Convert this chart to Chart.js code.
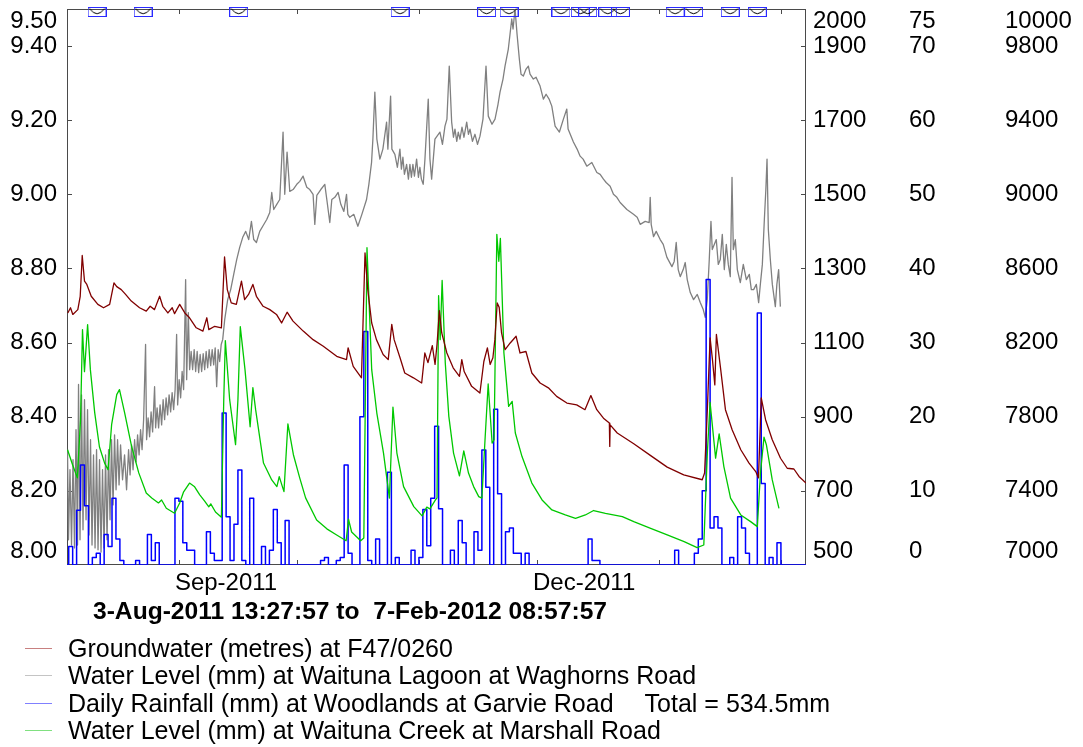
<!DOCTYPE html>
<html>
<head>
<meta charset="utf-8">
<title>Waituna catchment levels and rainfall</title>
<script src="https://cdn.jsdelivr.net/npm/chart.js@4.4.1/dist/chart.umd.min.js"></script>
<style>
  body { margin: 0; background: #fff; }
  #wrap { position: relative; width: 1083px; height: 747px; font-family: 'Liberation Sans', Arial, sans-serif; color: #000; }
  #period { position: absolute; left: 93px; top: 596px; font-size: 24.6px; font-weight: bold; line-height: 30px; white-space: pre; }
  #legend { position: absolute; left: 25px; top: 635px; font-size: 25px; }
  .row { height: 27.3px; display: flex; align-items: center; white-space: pre; }
  .swatch { width: 27px; height: 0; border-top: 1px solid; margin-right: 16px; }
</style>
</head>
<body>
<div id="wrap">
  <canvas id="chart" width="1083" height="747"></canvas>
  <div id="period"></div>
  <div id="legend"></div>
</div>
<script>
// x values are days counted from 1-Aug-2011 00:00
var startDay = 2.561;    // 3-Aug-2011 13:27:57
var endDay = 190.374;    // 7-Feb-2012 08:57:57
var periodText = '3-Aug-2011 13:27:57 to  7-Feb-2012 08:57:57';
var monthStarts = [31, 61, 92, 122, 153, 184];
var monthLabels = { 31: 'Sep-2011', 122: 'Dec-2011' };

var gwTicks = [8.0, 8.2, 8.4, 8.6, 8.8, 9.0, 9.2, 9.4, 9.5];
var lagoonTicks = [500, 700, 900, 1100, 1300, 1500, 1700, 1900, 2000];
var rainTicks = [0, 10, 20, 30, 40, 50, 60, 70, 75];
var creekTicks = [7000, 7400, 7800, 8200, 8600, 9000, 9400, 9800, 10000];

// groundwater (m) at F47/0260
var groundwater = [
  [2.76, 8.680], [3.45, 8.694], [4.04, 8.676], [5.31, 8.689], [5.92, 8.725], [6.43, 8.835], [7.01, 8.766], [7.6, 8.757],
  [8.72, 8.725], [10.4, 8.703], [11.85, 8.694], [13.4, 8.703], [14.5, 8.761], [15.2, 8.751], [16.35, 8.743], [17.45, 8.730],
  [18.9, 8.712], [21.0, 8.694], [22.7, 8.685], [23.7, 8.698], [24.8, 8.689], [26.1, 8.725], [26.9, 8.698], [28.2, 8.680],
  [29.3, 8.694], [29.9, 8.678], [31.2, 8.703], [32.5, 8.680], [33.7, 8.667], [35.4, 8.640], [37.1, 8.631], [38.1, 8.667],
  [38.6, 8.635], [40.1, 8.644], [41.8, 8.640], [42.6, 8.831], [43.3, 8.743], [44.3, 8.707], [45.6, 8.703], [46.9, 8.766],
  [47.7, 8.716], [48.7, 8.730], [49.8, 8.757], [50.7, 8.725], [52.4, 8.698], [54.1, 8.689], [55.8, 8.676], [57.1, 8.653],
  [58.5, 8.682], [60.0, 8.658], [62.6, 8.631], [65.1, 8.608], [67.7, 8.590], [71.1, 8.563], [73.6, 8.554], [74.0, 8.586],
  [75.3, 8.536], [77.4, 8.505], [78.3, 8.842], [79.0, 8.743], [80.0, 8.653], [81.2, 8.608], [82.9, 8.568], [84.2, 8.554],
  [85.1, 8.649], [85.7, 8.608], [87.2, 8.559], [88.4, 8.518], [90.6, 8.505], [92.7, 8.491], [93.5, 8.572], [94.3, 8.546],
  [95.4, 8.592], [96.1, 8.541], [96.6, 8.595], [97.2, 8.686], [97.8, 8.626], [99.1, 8.572], [100.7, 8.532], [102.3, 8.509],
  [102.9, 8.554], [103.5, 8.522], [105.4, 8.482], [107.5, 8.464], [108.5, 8.549], [109.4, 8.586], [110.1, 8.541], [110.8, 8.559],
  [111.3, 8.608], [111.9, 8.707], [112.4, 8.695], [113.0, 8.626], [113.9, 8.581], [115.2, 8.599], [116.7, 8.617], [117.7, 8.572],
  [119.2, 8.576], [120.7, 8.518], [122.8, 8.491], [124.9, 8.478], [127.0, 8.455], [129.6, 8.437], [132.1, 8.432], [134.2, 8.419],
  [135.7, 8.457], [137.2, 8.419], [138.9, 8.396], [140.4, 8.383], [140.5, 8.320], [140.6, 8.378], [142.4, 8.356], [146.6, 8.327],
  [150.9, 8.295], [155.1, 8.264], [159.3, 8.243], [164.0, 8.230], [164.6, 8.248], [165.3, 8.419], [166.0, 8.613], [166.6, 8.554],
  [167.2, 8.486], [167.6, 8.622], [168.7, 8.527], [169.9, 8.419], [171.6, 8.365], [173.8, 8.311], [175.9, 8.275], [177.6, 8.252],
  [178.3, 8.235], [179.0, 8.451], [180.1, 8.392], [181.8, 8.338], [183.9, 8.288], [185.6, 8.261], [187.3, 8.259], [188.6, 8.239],
  [190.37, 8.221]
];

// water level (mm) at Waituna Lagoon at Waghorns Road
var lagoon = [
  [2.69, 811], [2.94, 568], [3.32, 757], [3.71, 554], [4.09, 784], [4.47, 546], [4.85, 865], [5.23, 554], [5.49, 987], [5.87, 568],
  [6.25, 959], [6.63, 595], [7.01, 946], [7.40, 622], [7.78, 919], [8.16, 581], [8.54, 838], [8.92, 554], [9.30, 797], [9.69, 546],
  [10.07, 811], [10.45, 541], [10.83, 784], [11.21, 535], [11.59, 757], [11.98, 546], [12.36, 797], [12.74, 568], [13.12, 811],
  [13.50, 622], [13.88, 838], [14.27, 662], [14.65, 851], [15.03, 703], [15.41, 838], [15.79, 716], [16.17, 824], [16.68, 730],
  [17.19, 797], [17.70, 703], [18.21, 811], [18.59, 743], [18.97, 824], [19.35, 757], [19.74, 838], [20.12, 778], [20.50, 851],
  [20.88, 797], [21.26, 865], [21.64, 811], [22.03, 892], [22.53, 1095], [22.79, 838], [23.17, 897], [23.55, 846], [23.93, 913],
  [24.32, 859], [24.82, 981], [25.08, 870], [25.46, 924], [25.84, 870], [26.22, 932], [26.61, 878], [26.99, 946], [27.37, 892],
  [27.75, 951], [28.13, 905], [28.51, 959], [28.90, 913], [29.28, 965], [29.66, 919], [30.04, 973], [30.42, 1122], [30.68, 932],
  [31.06, 1000], [31.44, 951], [31.82, 1022], [32.20, 973], [32.71, 1270], [32.97, 1000], [33.40, 1181], [33.73, 1027],
  [34.11, 1076], [34.49, 1027], [34.88, 1081], [35.26, 1022], [35.64, 1076], [36.02, 1019], [36.40, 1068], [36.78, 1022],
  [37.17, 1070], [37.55, 1027], [37.93, 1076], [38.31, 1032], [38.69, 1081], [39.07, 1038], [39.46, 1081], [39.84, 1040],
  [40.22, 1086], [40.60, 981], [40.98, 1081], [41.36, 1049], [41.75, 1095], [42.13, 1108], [42.64, 1162], [43.40, 1216],
  [44.16, 1243], [44.93, 1284], [45.69, 1324], [46.45, 1357], [47.22, 1384], [47.98, 1400], [48.74, 1378], [49.43, 1427],
  [50.02, 1378], [50.70, 1370], [51.54, 1400], [52.31, 1414], [53.32, 1432], [54.09, 1451], [54.60, 1505], [55.10, 1459],
  [55.87, 1473], [56.63, 1486], [57.47, 1668], [57.90, 1500], [58.49, 1614], [59.18, 1508], [60.02, 1513], [60.96, 1527],
  [61.72, 1535], [62.56, 1549], [63.50, 1519], [64.26, 1513], [65.10, 1500], [65.54, 1419], [66.05, 1497], [67.06, 1513],
  [68.08, 1527], [68.59, 1486], [69.35, 1424], [69.86, 1486], [70.63, 1492], [71.47, 1505], [72.15, 1473], [72.92, 1454],
  [73.60, 1500], [73.93, 1446], [74.44, 1438], [75.46, 1446], [76.48, 1414], [77.50, 1446], [78.69, 1486], [79.28, 1527],
  [79.96, 1586], [80.30, 1649], [80.80, 1776], [81.31, 1649], [82.08, 1595], [82.84, 1622], [83.78, 1695], [84.11, 1622],
  [84.80, 1765], [85.13, 1622], [85.89, 1608], [86.53, 1573], [87.17, 1622], [87.55, 1568], [87.93, 1600], [88.31, 1554],
  [88.87, 1581], [89.33, 1541], [89.71, 1581], [90.09, 1546], [90.47, 1581], [90.86, 1549], [91.41, 1595], [91.87, 1546],
  [92.25, 1573], [92.63, 1541], [93.09, 1527], [93.53, 1595], [94.37, 1757], [94.80, 1595], [95.23, 1541], [96.07, 1649],
  [97.34, 1668], [97.98, 1635], [98.62, 1684], [99.12, 1703], [99.71, 1846], [100.32, 1695], [100.78, 1654], [101.16, 1676],
  [101.62, 1643], [102.00, 1668], [102.43, 1649], [102.94, 1681], [103.45, 1654], [104.14, 1695], [104.59, 1662], [104.98, 1676],
  [105.61, 1643], [106.25, 1662], [106.89, 1635], [107.52, 1657], [108.28, 1703], [109.05, 1846], [109.63, 1711], [110.57, 1689],
  [111.34, 1703], [112.10, 1743], [112.61, 1776], [113.37, 1811], [113.88, 1846], [114.72, 1892], [115.15, 1932], [115.59, 1973],
  [115.92, 1946], [116.43, 2000], [116.94, 1932], [117.52, 1865], [117.95, 1824], [118.54, 1819], [119.23, 1838], [119.81, 1846],
  [120.24, 1824], [121.08, 1811], [121.77, 1816], [122.79, 1792], [123.63, 1757], [124.32, 1770], [125.08, 1757], [125.77, 1738],
  [126.61, 1684], [127.70, 1668], [128.72, 1703], [129.58, 1730], [129.91, 1676], [131.26, 1641], [132.20, 1622], [132.97, 1603],
  [133.73, 1595], [134.67, 1576], [135.94, 1586], [137.22, 1559], [138.06, 1554], [138.90, 1541], [139.58, 1532], [140.60, 1522],
  [141.44, 1500], [142.30, 1492], [143.14, 1478], [144.85, 1459], [146.53, 1446], [147.47, 1438], [148.23, 1419], [149.51, 1427],
  [150.52, 1424], [150.78, 1492], [151.03, 1419], [151.62, 1386], [152.30, 1400], [153.32, 1378], [154.09, 1365], [155.03, 1330],
  [156.30, 1305], [156.88, 1319], [157.39, 1370], [157.90, 1297], [158.41, 1278], [159.17, 1297], [159.68, 1316], [160.19, 1270],
  [160.96, 1235], [161.80, 1216], [162.74, 1230], [163.50, 1208], [164.26, 1189], [164.77, 1168], [165.28, 1216], [165.79, 1324],
  [166.22, 1427], [166.55, 1351], [167.57, 1378], [168.08, 1311], [168.59, 1324], [169.10, 1392], [169.61, 1297], [170.12, 1365],
  [170.63, 1311], [171.13, 1278], [171.57, 1546], [171.90, 1351], [172.41, 1378], [172.92, 1297], [173.68, 1262], [174.44, 1311],
  [175.21, 1270], [175.97, 1284], [176.48, 1243], [177.06, 1243], [177.75, 1257], [178.34, 1208], [178.77, 1257], [179.28, 1311],
  [179.79, 1432], [180.17, 1513], [180.47, 1595], [180.80, 1405], [181.31, 1324], [181.82, 1257], [182.58, 1197], [182.97, 1257],
  [183.42, 1297], [183.86, 1197]
];

// daily rainfall (mm) at Woodlands at Garvie Road, [day, mm], dry days left out
var rain = [
  [3, 2.5], [5, 7.4], [6, 13.5], [7, 8.0], [9, 1.0], [10, 1.6], [12, 4.1], [13, 2.5], [14, 9.0], [15, 3.5], [16, 0.6],
  [20, 0.6], [23, 4.1], [24, 0.6], [25, 3.0], [30, 9.0], [31, 8.6], [32, 3.0], [33, 2.0], [34, 2.0],
  [38, 4.5], [39, 1.6], [40, 0.6], [41, 0.6], [42, 20.5], [43, 6.5], [44, 0.6], [45, 5.5], [46, 12.8], [47, 0.6], [49, 9.0],
  [52, 2.5], [54, 2.0], [55, 7.5], [56, 3.0], [58, 6.0],
  [67, 0.6], [68, 1.0], [71, 0.6], [72, 1.0], [73, 13.5], [74, 1.6], [77, 20.0], [78, 31.5], [79, 0.6], [81, 3.5], [84, 12.5], [86, 1.0],
  [90, 2.0], [92, 1.0], [93, 7.5], [94, 2.6], [95, 9.0], [96, 18.7], [97, 7.6],
  [100, 2.0], [102, 6.0], [103, 3.0], [106, 4.5], [107, 2.0], [108, 15.5], [109, 10.5], [111, 21.0], [112, 9.6],
  [114, 4.5], [115, 5.0], [116, 1.6], [117, 1.6], [119, 1.6],
  [135, 3.5], [136, 0.6], [137, 0.6],
  [157, 2.0], [162, 1.6], [163, 3.5], [164, 10.0], [165, 38.5], [166, 5.0], [167, 6.5], [168, 5.0],
  [171, 1.0], [173, 6.5], [174, 5.0], [175, 1.6], [178, 34.0], [179, 11.0], [181, 1.0], [183, 3.0]
];

// water level (mm) at Waituna Creek at Marshall Road
var creek = [
  [2.7, 7622], [4.0, 7540], [5.2, 7470], [6.0, 7784], [6.5, 8270], [7.0, 8043], [7.8, 8297], [8.5, 8054], [9.6, 7822],
  [10.8, 7638], [12.1, 7551], [13.0, 7514], [13.9, 7757], [15.2, 7919], [15.9, 7946], [17.2, 7822], [19.0, 7638], [20.8, 7497],
  [22.7, 7389], [24.1, 7362], [25.8, 7335], [26.6, 7351], [27.8, 7306], [29.9, 7279], [31.2, 7335], [32.2, 7395], [33.7, 7442],
  [35.0, 7422], [36.3, 7378], [37.5, 7346], [38.6, 7314], [39.1, 7330], [40.3, 7286], [41.8, 7258], [42.4, 7892], [42.8, 8211],
  [43.9, 7892], [45.4, 7649], [46.0, 7892], [46.6, 8286], [47.8, 8054], [49.1, 7746], [49.8, 7957], [50.5, 7838], [52.5, 7550],
  [54.6, 7459], [55.9, 7423], [56.5, 7477], [57.7, 7396], [58.7, 7762], [60.1, 7595], [61.7, 7470], [63.2, 7362], [66.0, 7243],
  [68.6, 7195], [71.1, 7162], [73.5, 7131], [74.1, 7247], [74.9, 7178], [77.2, 7131], [78.0, 7146], [78.8, 8712], [80.0, 8054],
  [81.3, 7820], [83.0, 7604], [84.5, 7361], [85.4, 7852], [86.4, 7604], [88.1, 7423], [90.7, 7315], [92.8, 7265], [94.0, 7312],
  [94.8, 7303], [96.2, 7351], [96.6, 7362], [97.0, 8454], [97.4, 8216], [97.9, 8535], [98.7, 8090], [99.6, 7802], [100.8, 7604],
  [102.3, 7481], [103.4, 7616], [104.6, 7496], [105.9, 7423], [107.2, 7369], [108.0, 7361], [108.8, 7676], [109.6, 7977],
  [110.6, 7658], [111.1, 7676], [111.8, 8784], [112.3, 8639], [112.7, 8762], [113.6, 8144], [114.8, 7856], [115.7, 7883],
  [116.5, 7712], [118.2, 7585], [120.7, 7442], [123.3, 7351], [125.8, 7297], [129.2, 7270], [131.8, 7252], [134.3, 7270],
  [136.4, 7294], [139.4, 7279], [143.7, 7261], [146.6, 7234], [150.9, 7198], [155.1, 7162], [159.4, 7126], [162.7, 7094],
  [164.4, 7108], [165.3, 7604], [166.0, 7877], [167.4, 7577], [168.3, 7708], [169.5, 7531], [171.2, 7361], [173.8, 7270],
  [176.3, 7234], [178.0, 7207], [178.8, 7496], [179.7, 7690], [180.3, 7649], [181.8, 7459], [183.5, 7306]
];

// days flagged along the top edge of the plot
var gapDays = [10.2, 21.9, 46.2, 87.2, 109.2, 114.9, 128.1, 133.0, 134.9, 140.0, 143.2, 157.1, 161.8, 171.1, 178.0];

var labels = {
    gw: 'Groundwater (metres) at F47/0260',
    lagoon: 'Water Level (mm) at Waituna Lagoon at Waghorns Road',
    rain: 'Daily Rainfall (mm) at Woodlands at Garvie Road',
    creek: 'Water Level (mm) at Waituna Creek at Marshall Road'
};
var colors = { gw: '#800000', lagoon: '#808080', rain: '#0000ff', creek: '#00c800' };
var swatchColors = { gw: '#c88080', lagoon: '#c4c4c4', rain: '#8080ff', creek: '#80e080' };

function toPoints(pairs) {
    return pairs.map(function (p) { return { x: p[0], y: p[1] }; });
}

// one step per day, dry days at zero
var rainSteps = [];
for (var d = 2; d <= 190; d++) {
    var hit = rain.find(function (r) { return r[0] === d; });
    rainSteps.push({ x: d, y: hit ? hit[1] : 0 });
}
rainSteps.push({ x: endDay, y: rainSteps[rainSteps.length - 1].y });
var rainTotal = Math.round(rain.reduce(function (s, r) { return s + r[1]; }, 0) * 10) / 10;

// little flag box drawn for each gap day
function gapGlyph() {
    var c = document.createElement('canvas');
    c.width = 19; c.height = 20;
    var g = c.getContext('2d');
    g.strokeStyle = '#2a2aff';
    g.lineWidth = 1;
    g.strokeRect(0.5, 8.5, 18, 9);
    g.strokeStyle = '#000';
    g.beginPath();
    g.moveTo(2, 9.5);
    g.quadraticCurveTo(9.5, 20, 17, 9.5);
    g.stroke();
    return c;
}

// top label drops below the tick, bottom label sits above it
function edgeLabel(text, value, ticks) {
    if (value === ticks[ticks.length - 1]) return ['', text];
    if (value === ticks[0]) return [text, ''];
    return text;
}
function edgeFont(ticks) {
    return function (c) {
        var v = c.tick ? c.tick.value : null;
        return { size: 24, lineHeight: v === ticks[ticks.length - 1] ? '25px' : '28px' };
    };
}
function fixedWidth(w) {
    return function (s) {
        s.width = w;
        s.paddingTop = 0; s.paddingBottom = 0; s.paddingLeft = 0; s.paddingRight = 0;
    };
}
function setTicks(list) {
    return function (s) { s.ticks = list.map(function (v) { return { value: v }; }); };
}

// frame and inward tick marks
var frameTicks = {
    id: 'frameTicks',
    beforeDatasetsDraw: function (chart) {
        var c = chart.ctx, a = chart.chartArea, sc = chart.scales;
        c.save();
        c.strokeStyle = '#4a4a4a';
        c.lineWidth = 1;
        c.strokeRect(a.left + 0.5, a.top + 0.5, a.right - a.left - 1, a.bottom - a.top - 1);
        c.beginPath();
        monthStarts.forEach(function (v) {
            var px = Math.round(sc.x.getPixelForValue(v)) + 0.5;
            c.moveTo(px, a.top); c.lineTo(px, a.top + 5);
            c.moveTo(px, a.bottom); c.lineTo(px, a.bottom - 5);
        });
        gwTicks.slice(1, -1).forEach(function (v) {
            var py = Math.round(sc.yGw.getPixelForValue(v)) + 0.5;
            c.moveTo(a.left, py); c.lineTo(a.left + 5, py);
        });
        lagoonTicks.slice(1, -1).forEach(function (v) {
            var py = Math.round(sc.yLagoon.getPixelForValue(v)) + 0.5;
            c.moveTo(a.right, py); c.lineTo(a.right - 5, py);
        });
        c.stroke();
        c.restore();
    }
};

Chart.defaults.font.family = "'Liberation Sans', Arial, sans-serif";
Chart.defaults.font.size = 24;
Chart.defaults.color = '#000';

function rightAxis(ticks, pad, width, weight) {
    return {
        position: 'right', weight: weight,
        min: ticks[0], max: ticks[ticks.length - 1],
        grid: { display: false, drawTicks: false }, border: { display: false },
        afterBuildTicks: setTicks(ticks),
        afterFit: fixedWidth(width),
        ticks: {
            padding: pad, autoSkip: false, font: edgeFont(ticks),
            callback: function (v) { return edgeLabel(String(v), v, ticks); }
        }
    };
}

var lineStyle = { pointRadius: 0, pointHoverRadius: 0, tension: 0, borderJoinStyle: 'round' };

var chart = new Chart(document.getElementById('chart'), {
    type: 'line',
    data: {
        datasets: [
            {
                label: 'gaps', data: gapDays.map(function (v) { return { x: v, y: 9.5 }; }),
                yAxisID: 'yGw', showLine: false, pointStyle: gapGlyph(), pointRadius: 5, clip: false
            },
            Object.assign({ label: labels.gw, data: toPoints(groundwater), yAxisID: 'yGw', borderColor: colors.gw, borderWidth: 1.3 }, lineStyle),
            Object.assign({ label: labels.creek, data: toPoints(creek), yAxisID: 'yCreek', borderColor: colors.creek, borderWidth: 1.3 }, lineStyle),
            Object.assign({ label: labels.rain, data: rainSteps, yAxisID: 'yRain', borderColor: colors.rain, borderWidth: 1.5, stepped: true }, lineStyle),
            Object.assign({ label: labels.lagoon, data: toPoints(lagoon), yAxisID: 'yLagoon', borderColor: colors.lagoon, borderWidth: 1.3 }, lineStyle)
        ]
    },
    options: {
        responsive: false,
        animation: false,
        layout: { padding: { top: 9, left: 0, right: 0, bottom: 0 } },
        plugins: { legend: { display: false }, tooltip: { enabled: false } },
        scales: {
            x: {
                type: 'linear', position: 'bottom',
                min: startDay, max: endDay,
                grid: { display: false, drawTicks: false }, border: { display: false },
                afterBuildTicks: setTicks(monthStarts),
                afterFit: function (s) {
                    s.height = 182;
                    s.paddingLeft = 0; s.paddingRight = 0;
                },
                ticks: {
                    align: 'start', labelOffset: -4, padding: 4, maxRotation: 0, autoSkip: false,
                    callback: function (v) { return monthLabels[v] || ''; }
                }
            },
            yGw: {
                position: 'left',
                min: 8, max: 9.5,
                grid: { display: false, drawTicks: false }, border: { display: false },
                afterBuildTicks: setTicks(gwTicks),
                afterFit: fixedWidth(67),
                ticks: {
                    padding: 10, autoSkip: false, font: edgeFont(gwTicks),
                    callback: function (v) { return edgeLabel(v.toFixed(2), v, gwTicks); }
                }
            },
            yLagoon: rightAxis(lagoonTicks, 7, 97, 0),
            yRain: rightAxis(rainTicks, 6, 97, 1),
            yCreek: rightAxis(creekTicks, 5, 83, 2)
        }
    },
    plugins: [frameTicks]
});

// period line and legend under the plot
document.getElementById('period').textContent = periodText;
var legendItems = [
    { key: 'gw' },
    { key: 'lagoon' },
    { key: 'rain', extra: 'Total = ' + rainTotal.toFixed(1) + 'mm' },
    { key: 'creek' }
];
var legend = document.getElementById('legend');
legendItems.forEach(function (item) {
    var row = document.createElement('div');
    row.className = 'row';
    var sw = document.createElement('span');
    sw.className = 'swatch';
    sw.style.borderTopColor = swatchColors[item.key];
    row.appendChild(sw);
    var txt = document.createElement('span');
    txt.textContent = labels[item.key];
    row.appendChild(txt);
    if (item.extra) {
        var ex = document.createElement('span');
        ex.style.marginLeft = '31px';
        ex.textContent = item.extra;
        row.appendChild(ex);
    }
    legend.appendChild(row);
});
</script>
</body>
</html>
